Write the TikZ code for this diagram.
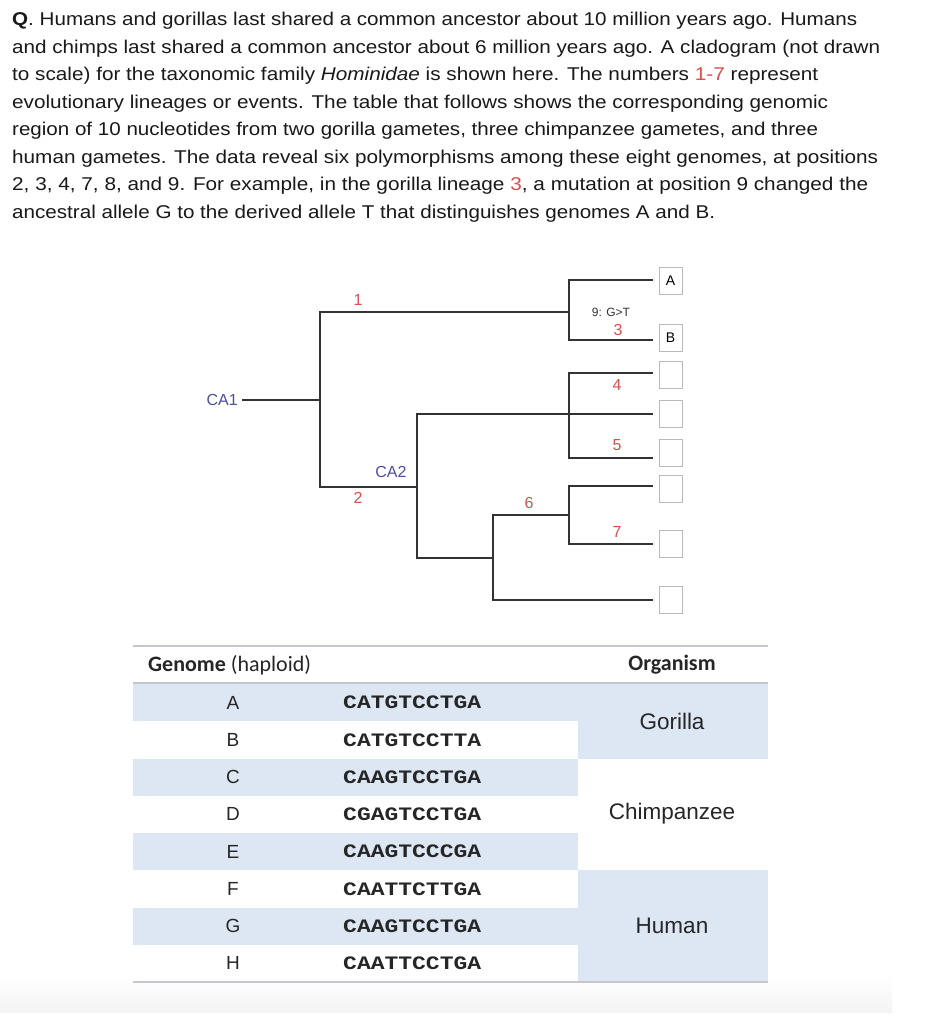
\documentclass[tikz,border=0pt]{standalone}
\usepackage{fontspec}
\setmainfont{Liberation Sans}
\newfontfamily\calib{Carlito}
\newfontfamily\seqf{Liberation Mono}
\usepackage{graphicx}
\definecolor{numred}{HTML}{D9504F}
\definecolor{cablue}{HTML}{4E4E9E}
\definecolor{cellblue}{HTML}{DDE7F3}
\definecolor{linegray}{HTML}{333333}
\definecolor{rulegray}{HTML}{C4C8CC}
\newsavebox\fitbox
\newcommand\fitw[2]{\sbox\fitbox{#2}\pgfmathsetmacro\fitr{#1/\wd\fitbox}\scalebox{\fitr}[1]{\usebox\fitbox}}
\tikzset{
  para/.style={anchor=base west, inner sep=0pt, font=\fontsize{18.5}{20}\selectfont, text=black!90},
  branch/.style={draw=linegray, line width=1.3pt},
  leafbox/.style={draw=gray!55, line width=0.9pt, minimum width=23pt, minimum height=27pt, inner sep=0pt, font=\fontsize{14}{16}\selectfont},
  num/.style={text=numred, inner sep=0pt, font=\fontsize{16}{18}\selectfont},
  ca/.style={text=cablue, inner sep=0pt, font=\fontsize{16}{18}\selectfont},
  letter/.style={inner sep=0pt, font=\fontsize{19}{21}\selectfont, text=black!85},
  seq/.style={inner sep=0pt, anchor=west, font=\seqf\bfseries\fontsize{19}{21}\selectfont, text=black!85},
  org/.style={inner sep=0pt, font=\fontsize{22.5}{24}\selectfont, text=black!85},
  hdr/.style={inner sep=0pt, font=\calib\fontsize{22}{24}\selectfont, text=black!85},
}
\begin{document}
\begin{tikzpicture}[x=1pt, y=-1pt]
\useasboundingbox (0,0) rectangle (946,1024);
\fill[white] (0,0) rectangle (946,1024);
\shade[top color=white, bottom color=gray!9] (0,975) rectangle (892,1012);

% ---------- question text ----------
\node[para] (l1) at (12,26)    {\fitw{845}{\textbf{Q}. Humans and gorillas last shared a common ancestor about 10 million years ago. Humans}};
\node[para] (l2) at (12,53.5)  {\fitw{868}{and chimps last shared a common ancestor about 6 million years ago. A cladogram (not drawn}};
\node[para] (l3) at (12,81)    {\fitw{806}{to scale) for the taxonomic family \textit{Hominidae} is shown here. The numbers \textcolor{numred}{1-7} represent}};
\node[para] (l4) at (12,108.5) {\fitw{816}{evolutionary lineages or events. The table that follows shows the corresponding genomic}};
\node[para] (l5) at (12,136)   {\fitw{806}{region of 10 nucleotides from two gorilla gametes, three chimpanzee gametes, and three}};
\node[para] (l6) at (12,163.5) {\fitw{866}{human gametes. The data reveal six polymorphisms among these eight genomes, at positions}};
\node[para] (l7) at (12,191)   {\fitw{856}{2, 3, 4, 7, 8, and 9. For example, in the gorilla lineage \textcolor{numred}{3}, a mutation at position 9 changed the}};
\node[para] (l8) at (12,218.5) {\fitw{703}{ancestral allele G to the derived allele T that distinguishes genomes A and B.}};

% ---------- cladogram ----------
\node[ca, anchor=east] (CA1) at (238,400) {CA1};
\coordinate (r)  at (320,400);
\coordinate (g)  at (569,312);
\coordinate (c2) at (417,487);
\coordinate (n4) at (569,414);
\coordinate (n6) at (493,558);
\coordinate (n7) at (569,515);

% leaf tips
\coordinate (tA) at (653,280);
\coordinate (tB) at (653,340);
\coordinate (tC) at (653,373);
\coordinate (tD) at (653,414);
\coordinate (tE) at (653,458);
\coordinate (tF) at (653,486);
\coordinate (tG) at (653,544);
\coordinate (tH) at (653,600);

% leaf boxes
\node[leafbox] (bA) at (670.5,281) {A};
\node[leafbox] (bB) at (670.5,338) {B};
\node[leafbox] (bC) at (670.5,375) {};
\node[leafbox] (bD) at (670.5,414) {};
\node[leafbox] (bE) at (670.5,453) {};
\node[leafbox] (bF) at (670.5,489) {};
\node[leafbox] (bG) at (670.5,544) {};
\node[leafbox] (bH) at (670.5,600) {};

\draw[branch] ([xshift=4pt]CA1.east) -- (r);
\draw[branch] (r) |- (g);
\draw[branch] (r) |- (c2);
\draw[branch] (g) |- (tA);
\draw[branch] (g) |- (tB);
\draw[branch] (c2) |- (tD);
\draw[branch] (c2) |- (n6);
\draw[branch] (n4) |- (tC);
\draw[branch] (n4) |- (tE);
\draw[branch] (n6) |- (n7);
\draw[branch] (n6) |- (tH);
\draw[branch] (n7) |- (tF);
\draw[branch] (n7) |- (tG);

\node[num] (k1) at (358,300) {1};
\node[num] (k2) at (358,498) {2};
\node[ca]  (ca2) at (391,472) {CA2};
\node[inner sep=0pt, font=\fontsize{12}{14}\selectfont, text=black!80] (mut) at (611,312) {9: G>T};
\node[num] (k3) at (618,330) {3};
\node[num] (k4) at (617,385) {4};
\node[num] (k5) at (617,445) {5};
\node[num] (k6) at (529,503) {6};
\node[num] (k7) at (617,532) {7};

% ---------- table ----------
\foreach \i in {0,2,4,6} {
  \fill[cellblue] (133,{684+37.25*\i}) rectangle (578,{684+37.25*(\i+1)});
}
\fill[cellblue] (578,684) rectangle (768,758.5);
\fill[cellblue] (578,870.25) rectangle (768,982);
\draw[rulegray, line width=2pt] (133,646) -- (768,646);
\draw[rulegray, line width=1.6pt] (133,683) -- (768,683);
\draw[rulegray, line width=1.6pt] (133,982) -- (768,982);

\node[hdr, anchor=west] (hg) at (148,665) {\textbf{Genome} (haploid)};
\node[hdr] (ho) at (672,665) {\textbf{Organism}};

\foreach \L/\S [count=\i from 0] in {A/CATGTCCTGA,B/CATGTCCTTA,C/CAAGTCCTGA,D/CGAGTCCTGA,E/CAAGTCCCGA,F/CAATTCTTGA,G/CAAGTCCTGA,H/CAATTCCTGA} {
  \node[letter] (r\L) at (233,{702.6+37.25*\i}) {\L};
  \node[seq] (s\L) at (343,{702.6+37.25*\i}) {\fitw{138}{\S}};
}
\node[org] (gor) at (672,721) {Gorilla};
\node[org] (chi) at (672,814) {Chimpanzee};
\node[org] (hum) at (672,926) {Human};
\end{tikzpicture}
\end{document}
